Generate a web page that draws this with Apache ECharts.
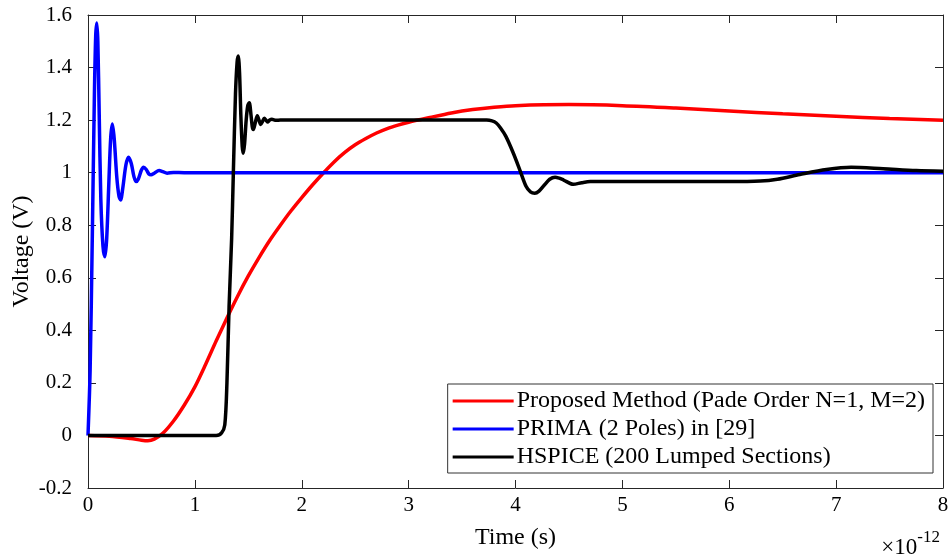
<!DOCTYPE html>
<html>
<head>
<meta charset="utf-8">
<script src="https://cdn.jsdelivr.net/npm/echarts@6/dist/echarts.min.js"></script>
<style>html,body{margin:0;padding:0;background:#fff}#c{width:950px;height:560px}</style>
</head>
<body>
<div id="c"></div>
<script>
// Series names
const seriesNames = ['Proposed Method (Pade Order N=1, M=2)', 'PRIMA (2 Poles) in [29]', 'HSPICE (200 Lumped Sections)'];
// Time in units of 1e-12 s, voltage in V
const proposed = [[0,0],[0.2,-0.003],[0.4,-0.012],[0.5,-0.018],[0.56,-0.02],[0.62,-0.014],[0.7,0.008],[0.8,0.055],[0.9,0.115],[1.0,0.185],[1.1,0.27],[1.2,0.36],[1.3,0.447],[1.4,0.53],[1.5,0.607],[1.6,0.677],[1.7,0.742],[1.8,0.8],[1.9,0.855],[2.0,0.905],[2.1,0.953],[2.2,0.998],[2.3,1.04],[2.4,1.076],[2.5,1.106],[2.6,1.13],[2.7,1.151],[2.8,1.168],[2.9,1.181],[3.0,1.192],[3.2,1.21],[3.4,1.227],[3.6,1.24],[3.8,1.249],[4.0,1.255],[4.5,1.259],[5.0,1.255],[5.5,1.246],[6.0,1.235],[6.5,1.224],[7.0,1.215],[7.5,1.206],[8.0,1.199]];
const prima = [[0,0],[0.02,0.25],[0.04,0.75],[0.06,1.3],[0.072,1.52],[0.082,1.57],[0.092,1.5],[0.105,1.22],[0.12,0.9],[0.14,0.72],[0.158,0.68],[0.175,0.75],[0.195,0.96],[0.212,1.13],[0.228,1.185],[0.245,1.13],[0.27,0.98],[0.29,0.91],[0.305,0.896],[0.325,0.94],[0.355,1.03],[0.38,1.059],[0.405,1.035],[0.43,0.985],[0.45,0.966],[0.47,0.975],[0.5,1.01],[0.52,1.021],[0.545,1.012],[0.57,0.995],[0.59,0.992],[0.62,0.998],[0.665,1.008],[0.7,1.004],[0.74,0.998],[0.8,1.001],[0.9,1.0],[8,1.0]];
const hspice = [[0,0],[1.2,0],[1.25,0.01],[1.28,0.04],[1.30,0.2],[1.32,0.49],[1.344,0.75],[1.36,1.0],[1.38,1.3],[1.395,1.42],[1.406,1.444],[1.418,1.38],[1.43,1.22],[1.443,1.1],[1.453,1.074],[1.465,1.11],[1.48,1.2],[1.495,1.255],[1.509,1.266],[1.525,1.22],[1.537,1.175],[1.547,1.164],[1.565,1.19],[1.584,1.217],[1.60,1.2],[1.616,1.183],[1.633,1.195],[1.65,1.207],[1.665,1.2],[1.68,1.193],[1.70,1.2],[1.72,1.203],[1.76,1.199],[1.8,1.2],[3.73,1.2],[3.78,1.197],[3.82,1.189],[3.86,1.17],[3.91,1.138],[3.98,1.074],[4.04,1.011],[4.10,0.947],[4.14,0.927],[4.18,0.922],[4.22,0.93],[4.27,0.953],[4.32,0.975],[4.37,0.983],[4.41,0.979],[4.45,0.972],[4.54,0.956],[4.62,0.962],[4.70,0.966],[5.0,0.966],[5.5,0.966],[6.0,0.966],[6.29,0.968],[6.45,0.975],[6.66,0.993],[6.91,1.012],[7.14,1.021],[7.44,1.015],[7.75,1.008],[8,1.005]];
const xLabel = 'Time (s)';
const yLabel = 'Voltage (V)';
const xExponent = '-12';

const FONT = '"Liberation Serif", "Times New Roman", serif';
const AX = '#262626';
const chart = echarts.init(document.getElementById('c'), null, {renderer: 'canvas'});

function mkX(show, pos) {
  return {
    type: 'value', min: 0, max: 8, interval: 1, position: pos,
    axisLine: {show: true, onZero: false, lineStyle: {color: AX, width: 1}},
    axisTick: {show: true, inside: true, length: 8, lineStyle: {color: AX}},
    axisLabel: {show: show, color: '#000', fontFamily: FONT, fontSize: 21, margin: 7},
    splitLine: {show: false},
    name: show ? xLabel : '', nameLocation: 'middle', nameGap: 38, nameMoveOverlap: false,
    nameTextStyle: {color: '#000', fontFamily: FONT, fontSize: 24}
  };
}
function mkY(show, pos) {
  return {
    type: 'value', min: -0.2, max: 1.6, interval: 0.2, position: pos,
    axisLine: {show: true, onZero: false, lineStyle: {color: AX, width: 1}},
    axisTick: {show: true, inside: true, length: 8, lineStyle: {color: AX}},
    axisLabel: {show: show, color: '#000', fontFamily: FONT, fontSize: 21, margin: 16,
      formatter: v => String(+v.toFixed(1))},
    splitLine: {show: false},
    name: show ? yLabel : '', nameLocation: 'middle', nameGap: 54, nameMoveOverlap: false,
    nameTextStyle: {color: '#000', fontFamily: FONT, fontSize: 24}
  };
}

const colors = ['#ff0000', '#0000ff', '#000000'];
const datasets = [proposed, prima, hspice];

chart.setOption({
  animation: false,
  backgroundColor: '#fff',
  grid: {left: 88, right: 7, top: 15, bottom: 72, containLabel: false, outerBoundsMode: 'none'},
  xAxis: [mkX(true, 'bottom'), mkX(false, 'top')],
  yAxis: [mkY(true, 'left'), mkY(false, 'right')],
  legend: {
    orient: 'vertical', right: 17, top: 384,
    backgroundColor: '#fff', borderColor: '#333', borderWidth: 1,
    padding: [5, 8, 4, 5], itemGap: 4,
    icon: 'rect', itemWidth: 61, itemHeight: 3,
    textStyle: {fontFamily: FONT, fontSize: 24, lineHeight: 24, color: '#000', padding: [0, 0, 0, -2]},
    data: seriesNames
  },
  series: datasets.map((d, i) => ({
    name: seriesNames[i], type: 'line', data: d,
    xAxisIndex: 0, yAxisIndex: 0,
    showSymbol: false, smooth: 0.3,
    lineStyle: {color: colors[i], width: 3.5},
    itemStyle: {color: colors[i]},
    z: 2 + i
  })),
  graphic: [{
    type: 'text', right: 10, top: 529,
    style: {
      text: '{a|×10}{b|' + xExponent + '}',
      rich: {
        a: {fontFamily: FONT, fontSize: 23, fill: '#000', verticalAlign: 'bottom'},
        b: {fontFamily: FONT, fontSize: 17, fill: '#000', verticalAlign: 'top', padding: [0, 0, 13, 0]}
      }
    }
  }]
});
</script>
</body>
</html>
